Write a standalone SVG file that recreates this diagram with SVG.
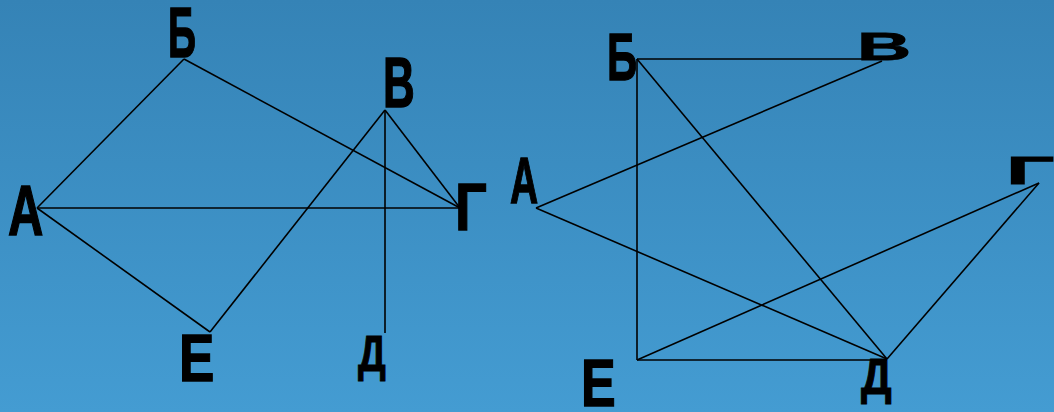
<svg xmlns="http://www.w3.org/2000/svg" width="1054" height="412" viewBox="0 0 1054 412">
<defs>
<linearGradient id="bg" x1="0" y1="0" x2="0" y2="1">
<stop offset="0" stop-color="#3583b6"/>
<stop offset="1" stop-color="#449cd2"/>
</linearGradient>
<style>
.e{stroke:#000;stroke-width:1.6;fill:none}
.l{font-family:"Liberation Sans",Arial,sans-serif;font-weight:bold;font-size:100px;fill:#000;stroke:#000;stroke-width:2}
</style>
</defs>
<rect width="1054" height="412" fill="url(#bg)"/>
<g id="connectors">
<line class="e" x1="37" y1="208" x2="184" y2="59"/>
<line class="e" x1="184" y1="59" x2="460" y2="208"/>
<line class="e" x1="37" y1="208" x2="460" y2="208"/>
<line class="e" x1="37" y1="208" x2="210" y2="332"/>
<line class="e" x1="210" y1="332" x2="385" y2="110"/>
<line class="e" x1="385" y1="110" x2="460" y2="208"/>
<line class="e" x1="385" y1="110" x2="385" y2="333"/>
<line class="e" x1="637" y1="59" x2="880" y2="59"/>
<line class="e" x1="536" y1="208" x2="882" y2="61"/>
<line class="e" x1="637" y1="59" x2="637" y2="360"/>
<line class="e" x1="637" y1="59" x2="887" y2="359"/>
<line class="e" x1="536" y1="208" x2="887" y2="359"/>
<line class="e" x1="637" y1="360" x2="1039" y2="183"/>
<line class="e" x1="1039" y1="183" x2="887" y2="359"/>
<line class="e" x1="637" y1="360" x2="887" y2="360"/>
</g>
<g id="L-A"><text class="l" transform="translate(8,235) scale(0.49,0.70)">А</text></g>
<g id="L-B"><text class="l" transform="translate(168,57) scale(0.39,0.71)">Б</text></g>
<g id="L-V"><text class="l" transform="translate(383,107) scale(0.44,0.71)">В</text></g>
<g id="L-G"><text class="l" transform="translate(455,230) scale(0.56,0.66)">Г</text></g>
<g id="L-D"><text class="l" transform="translate(358,371) scale(0.39,0.5)">Д</text></g>
<g id="L-E"><text class="l" transform="translate(179,381) scale(0.53,0.66)">Е</text></g>
<g id="R-A"><text class="l" transform="translate(510,203) scale(0.39,0.64)">А</text></g>
<g id="R-B"><text class="l" transform="translate(607,80) scale(0.42,0.67)">Б</text></g>
<g id="R-V"><text class="l" transform="translate(857,60) scale(0.75,0.39)">В</text></g>
<g id="R-G"><text class="l" transform="translate(1006,184) scale(0.85,0.38)">Г</text></g>
<g id="R-E"><text class="l" transform="translate(581,406) scale(0.52,0.67)">Е</text></g>
<g id="R-D"><text class="l" transform="translate(861,394) scale(0.43,0.505)">Д</text></g>
</svg>
